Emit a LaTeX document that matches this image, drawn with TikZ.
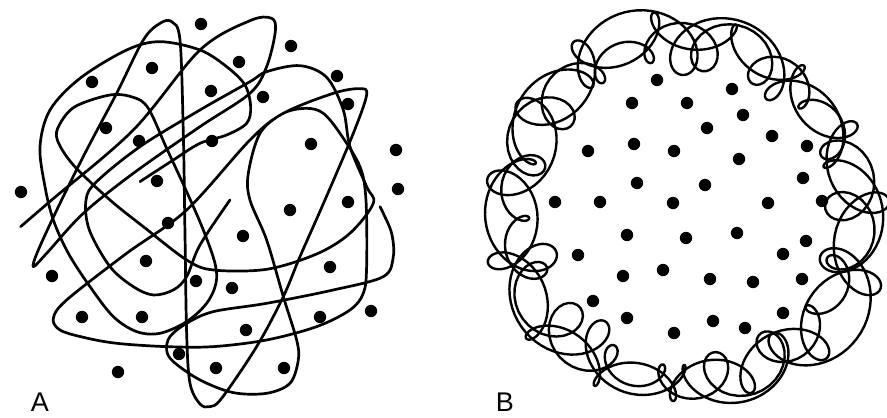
\documentclass[tikz,border=0pt]{standalone}
\usepackage{fontspec}
\setmainfont{Liberation Sans}
\begin{document}
\begin{tikzpicture}[x=1pt,y=-1pt,
  strokeA/.style={line width=2.7pt, line cap=round, line join=round},
  strokeB/.style={line width=2.4pt, line cap=round, line join=round},
  dot/.style={fill=black},
  lbl/.style={font=\fontsize{27}{30}\selectfont, anchor=base, inner sep=0pt}]
\useasboundingbox[fill=white] (0,0) rectangle (887,418);
% ---------- Panel A ----------
\begin{scope}[x=0.3333pt,y=-0.3333pt]
\draw[strokeA] plot[smooth, tension=0.55] coordinates {
 (62,680) (155,600) (400,390) (600,150) (750,62) (815,55) (826,95) (800,200) (750,280) (600,380) (400,520) (250,640) (140,760) (100,800) (115,750) (180,610) (260,450) (350,280) (430,120) (480,70) (515,65) (540,120) (550,400) (555,700) (560,1000) (570,1150) (600,1212) (630,1220) (665,1195) (770,1040) (850,890) (900,770) (975,600) (1060,400) (1100,285) (1080,266) (1000,280) (850,340) (750,420) (560,630) (380,760) (200,900) (160,955) (180,990) (250,1012) (350,1030) (500,1040) (640,1040) (800,1020) (950,980) (1050,930) (1090,880) (1100,800) (1098,600) (1080,500) (1020,400) (970,340) (920,325) (850,340) (780,400) (745,520) (750,600) (800,720) (850,890) (890,1020) (895,1080) (870,1150) (800,1180) (700,1178) (600,1140) (520,1085) (500,1050) (510,1010) (560,970) (640,935) (800,910) (1000,870) (1150,830) (1180,770) (1175,700) (1150,640) (1140,620)};
\draw[strokeA] plot[smooth, tension=0.55] coordinates {
 (420,545) (520,480) (600,430) (680,405) (740,370) (752,320) (735,255) (680,200) (600,150) (480,125) (380,150) (240,235) (150,330) (120,440) (135,560) (160,660) (205,760) (270,860) (340,950) (410,995) (480,1000) (560,965) (620,910) (648,850) (645,790) (610,690) (560,575) (500,445) (445,325) (400,292) (330,285) (225,320) (178,375) (172,420) (220,495) (330,600) (430,680) (560,780) (640,810) (800,808) (950,762) (1050,700) (1120,610) (1100,560) (1050,440) (1030,330) (980,232) (900,197) (800,215) (750,245) (600,330) (420,440) (290,545) (258,600) (268,690) (330,800) (400,860) (460,885) (520,870) (560,830) (600,735) (690,600)};
\end{scope}
\foreach \p in {(201,24),(291,46),(152,68),(239,62),(92,82),(211,91),(337,76),(263,97),(348,104),(106,128),(139,141),(212,141),(311,144),(396,150),(157,181),(21,192),(398,189),(348,202),(290,210),(168,223),(243,236),(146,261),(52,276),(330,267),(196,281),(232,288),(371,311),(82,317),(142,317),(246,330),(320,317),(179,354),(284,368),(216,368),(118,372)}
  \fill[dot] \p circle[radius=6.2pt];
\node[lbl] (labA) at (40,411) {A};
% ---------- Panel B ----------
\draw[strokeB] plot[domain=0:360, samples=500, variable=\t]
  ({684+(172+8*sin(2*\t))*cos(\t)+(27+8*sin(3*\t))*cos(11*\t)}, {212+(172+8*sin(2*\t))*sin(\t)+(27+8*sin(3*\t))*sin(11*\t)});
\draw[strokeB] plot[domain=0:360, samples=500, variable=\t]
  ({684+(176+6*cos(3*\t))*cos(\t+20)+(23+6*cos(2*\t))*cos(-14*\t+40)}, {212+(176+6*cos(3*\t))*sin(\t+20)+(23+6*cos(2*\t))*sin(-14*\t+40)});
\draw[strokeB] plot[domain=0:360, samples=500, variable=\t]
  ({684+168*cos(\t+50)+(20+7*sin(5*\t))*cos(19*\t+90)}, {212+168*sin(\t+50)+(20+7*sin(5*\t))*sin(19*\t+90)});
\foreach \p in {(657,80),(732,89),(632,103),(687,103),(743,115),(707,128),(772,136),(588,151),(634,144),(674,151),(739,159),(807,146),(637,183),(705,185),(803,178),(555,202),(600,202),(673,203),(768,203),(822,201),(627,235),(686,238),(737,233),(806,241),(783,254),(578,255),(663,270),(710,279),(753,282),(802,279),(623,276),(593,301),(627,318),(713,321),(745,328),(783,313),(674,333)}
  \fill[dot] \p circle[radius=6.2pt];
\node[lbl] (labB) at (505,411) {B};
\end{tikzpicture}
\end{document}
